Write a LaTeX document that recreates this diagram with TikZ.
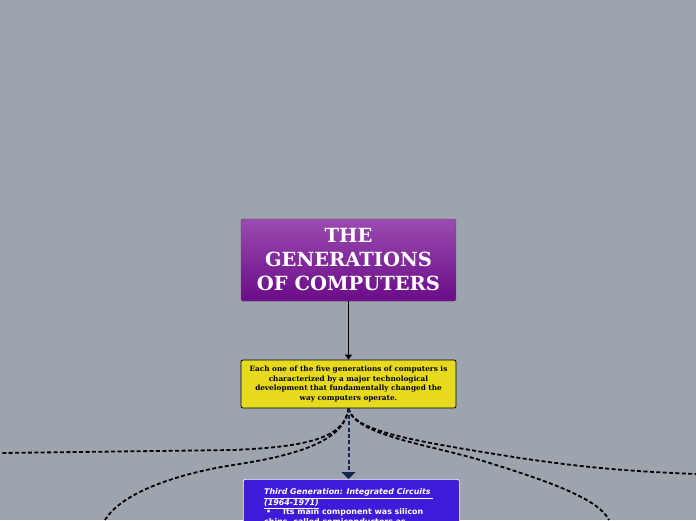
\documentclass[tikz,border=0pt]{standalone}
\usepackage{fontspec}
\setmainfont{DejaVu Serif}
\newfontfamily\blufont{DejaVu Sans}
\usetikzlibrary{arrows.meta}
\definecolor{bg}{HTML}{9EA4AE}
\definecolor{ptop}{HTML}{9B4BB0}
\definecolor{pbot}{HTML}{6A0C88}
\definecolor{ybox}{HTML}{E7DA1E}
\definecolor{bbox}{HTML}{3F1BD9}
\definecolor{navy}{HTML}{132452}
\tikzset{
  titlebox/.style={draw=black!70, rounded corners=2pt, top color=ptop, bottom color=pbot,
    minimum width=215pt, minimum height=82pt, inner sep=0pt, text=white, align=center,
    font=\fontsize{19.5}{24}\selectfont\bfseries},
  notebox/.style={draw=black, line width=0.8pt, rounded corners=2pt, fill=ybox,
    minimum width=215pt, minimum height=48pt, inner sep=0pt, align=center,
    font=\fontsize{7.3}{9.6}\selectfont\bfseries},
  genbox/.style={draw=white, line width=0.7pt, rounded corners=2pt, fill=bbox,
    minimum width=216pt, minimum height=120pt, inner sep=0pt},
  gentext/.style={inner sep=0pt, text=white, align=left,
    font=\blufont\fontsize{7.9}{9.4}\selectfont\bfseries},
  dashlink/.style={draw=black, line width=1.8pt, dash pattern=on 4pt off 2.4pt},
  navylink/.style={draw=navy, line width=2pt, dash pattern=on 4pt off 2.4pt},
}
\begin{document}
\begin{tikzpicture}[x=1pt,y=-1pt]
\useasboundingbox (0,0) rectangle (696,520);
\clip (0,0) rectangle (696,520);
\fill[bg] (0,0) rectangle (696,520);
\node[titlebox] (title) at (348.5,260) {THE\\GENERATIONS\\OF COMPUTERS};
\node[notebox] (note) at (348.5,384) {Each one of the five generations of computers is\\characterized by a major technological\\development that fundamentally changed the\\way computers operate.};
\node[genbox, anchor=north west] (gen3) at (243,479) {};
\node[gentext, anchor=north west] (gen3text) at (264,488.5)
  {\underline{\itshape Third Generation: Integrated Circuits }\\\underline{\itshape (1964-1971)}\\
   \hspace*{2pt}\textbullet\hspace{12pt}Its main component was silicon\\chips, called semiconductors as};
\coordinate (e1) at (0,453);
\coordinate (e2) at (105,520);
\coordinate (e3) at (696,474);
\coordinate (e4) at (609,520);
\draw[dashlink] (note.south) .. controls (345,440) and (300,447) .. (233,450) -- (e1);
\draw[dashlink] (note.south) .. controls (345,440) and (300,455) .. (233,465) .. controls (170,475) and (120,495) .. (e2);
\draw[dashlink] (note.south) .. controls (353,432) and (420,442) .. (520,458) .. controls (600,470) and (650,472) .. (e3);
\draw[dashlink] (note.south) .. controls (354,435) and (430,445) .. (480,460) .. controls (545,480) and (598,498) .. (e4);
\draw[navylink, -{Triangle[length=7pt,width=14pt,fill=navy]}] (note.south) -- (note.south |- gen3.north);
\draw[black, line width=0.9pt, -{Triangle[length=5pt,width=7pt]}] (title.south) -- (note.north);
\end{tikzpicture}
\end{document}
